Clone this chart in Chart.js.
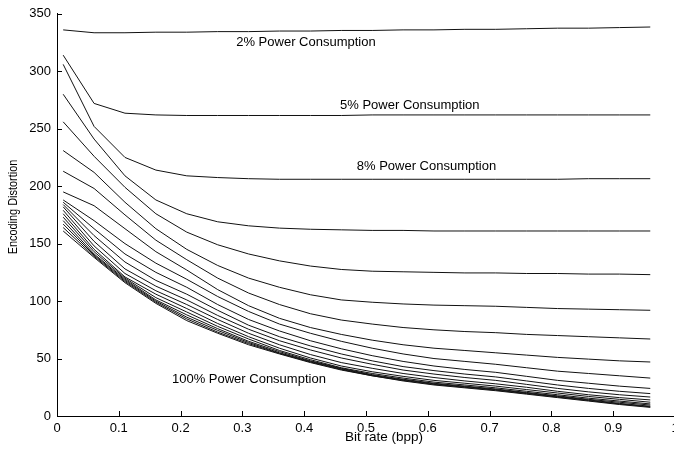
<!DOCTYPE html>
<html>
<head>
<meta charset="utf-8">
<script src="https://cdn.jsdelivr.net/npm/chart.js@4.4.0/dist/chart.umd.min.js"></script>
<style>
  html, body { margin: 0; padding: 0; background: #fff; overflow: hidden; }
  #wrap { width: 674px; height: 455px; overflow: hidden; }
  #wrap div { width: 690px; height: 455px; position: relative; }
</style>
</head>
<body>
<div id="wrap"><div><canvas id="distChart"></canvas></div></div>
<script>
// bit rate samples (bpp)
const bitRates = [0.01, 0.06, 0.11, 0.16, 0.21, 0.26, 0.31, 0.36, 0.41, 0.46,
                  0.51, 0.56, 0.61, 0.66, 0.71, 0.76, 0.81, 0.86, 0.91, 0.96];

// encoding distortion per power level, top (2%) to bottom (100%)
const d01 = [336, 333.5, 333.5, 334, 334, 334.5, 334.5, 335, 335, 335.5, 335.5, 336, 336, 336.5, 336.5, 337, 337.5, 337.5, 338, 338.5];
const d02 = [314, 272, 263.5, 262, 261.5, 261.5, 261.5, 261.5, 261.5, 261.5, 262, 262, 262, 262, 262, 262, 262, 262, 262, 262];
const d03 = [306, 252, 225, 214, 209, 207.5, 206.5, 206, 206, 206, 206, 206, 206, 206, 206, 206, 206, 206.5, 206.5, 206.5];
const d04 = [280, 241, 209, 188, 176, 169, 165.5, 163.5, 162.5, 162, 161.5, 161.5, 161, 161, 161, 161, 161, 161, 161, 161];
const d05 = [256, 226, 199, 176, 160, 149, 141, 135, 130.5, 127.5, 126, 125.5, 125, 124.5, 124.5, 124, 124, 123.5, 123.5, 123];
const d06 = [231, 212, 186, 163, 145, 131, 120, 112, 105.5, 101, 99, 97.5, 96.5, 96, 95.5, 94.5, 93.5, 93, 92.5, 92];
const d07 = [213, 198, 175, 153, 136, 120, 107, 97, 89, 83.5, 80, 77, 75, 73.5, 72.5, 71, 70, 69, 68, 67];
const d08 = [195, 183, 163, 143, 127, 110, 96, 85, 77, 71, 66, 62, 59, 57, 55, 53, 51, 49.5, 48, 47];
const d09 = [188, 170, 150, 133, 119, 104, 91, 80, 72, 65, 59, 54, 50, 47.5, 45, 42, 39, 37, 35, 33];
const d10 = [186, 163, 141, 125, 112, 97, 84, 74, 65.5, 58.5, 52.5, 47.5, 43.5, 40.5, 38, 34.5, 31, 28.5, 26, 24];
const d11 = [184, 157, 134, 118, 106, 92, 79, 69, 61, 54, 48, 43, 39.5, 36.5, 34, 30.5, 27, 24, 21.5, 19.5];
const d12 = [182, 152, 128, 113, 101, 87.5, 75.5, 65.5, 57.5, 50.5, 45, 40, 36.5, 33.5, 31, 27.5, 24, 21, 18.5, 16.5];
const d13 = [179, 148, 124, 109, 97, 84, 72, 62, 53.5, 46.5, 41.5, 37, 33.5, 30.5, 28, 25, 21.5, 18.5, 16, 14];
const d14 = [176, 145, 121, 106, 93.5, 80.5, 69, 59, 50.5, 43.5, 38.5, 34.5, 31, 28.5, 26, 23, 20, 17, 14.5, 12];
const d15 = [173, 143, 120, 103, 90.5, 78, 67, 57, 49, 42, 37, 33, 29.5, 27, 24.5, 21.5, 18.5, 15.5, 13, 10.5];
const d16 = [170, 141, 119, 101, 88, 76, 65, 56, 48, 41.5, 36, 32, 28.5, 26, 23.5, 20.5, 17.5, 14.5, 12, 9.5];
const d17 = [167, 140, 118, 100, 86, 74.5, 64, 55, 47.5, 41, 35.5, 31.5, 28, 25.5, 23, 20, 17, 14, 11, 8.5];
const d18 = [164, 139, 117, 99, 84.5, 73, 63, 54.5, 47, 40.5, 35, 31, 27.5, 25, 22.5, 19.5, 16.5, 13.5, 10.5, 8];
const d19 = [161, 138, 116, 98, 83, 72, 62, 54, 46.5, 40, 35, 30.5, 27, 24.5, 22, 19, 16, 13, 10, 7.5];

const curves = [d01, d02, d03, d04, d05, d06, d07, d08, d09, d10,
                d11, d12, d13, d14, d15, d16, d17, d18, d19];

const xTicks = [0, 0.1, 0.2, 0.3, 0.4, 0.5, 0.6, 0.7, 0.8, 0.9, 1];
const yTicks = [0, 50, 100, 150, 200, 250, 300, 350];

const notes = [
  { text: "2% Power Consumption", x: 0.29, y: 325 },
  { text: "5% Power Consumption", x: 0.458, y: 270.7 },
  { text: "8% Power Consumption", x: 0.485, y: 217.2 },
  { text: "100% Power Consumption", x: 0.186, y: 31.9 }
];

const FONT = "'Liberation Sans', Arial, sans-serif";

// inward ticks, axis titles, curve labels
const extras = {
  id: "extras",
  afterDraw(chart) {
    const { ctx, chartArea, scales } = chart;
    ctx.save();
    ctx.strokeStyle = "#000";
    ctx.lineWidth = 1;
    ctx.beginPath();
    yTicks.forEach(v => {
      const y = Math.round(scales.y.getPixelForValue(v)) + 0.5;
      ctx.moveTo(chartArea.left, y);
      ctx.lineTo(chartArea.left + 5, y);
    });
    xTicks.forEach(v => {
      const x = Math.round(scales.x.getPixelForValue(v)) + 0.5;
      ctx.moveTo(x, chartArea.bottom);
      ctx.lineTo(x, chartArea.bottom - 5);
    });
    ctx.stroke();

    ctx.fillStyle = "#000";
    ctx.font = "13px " + FONT;
    ctx.textAlign = "left";
    ctx.textBaseline = "middle";
    notes.forEach(n => {
      ctx.fillText(n.text, scales.x.getPixelForValue(n.x), scales.y.getPixelForValue(n.y));
    });

    // x title
    ctx.textAlign = "center";
    ctx.font = "13.5px " + FONT;
    ctx.fillText("Bit rate (bpp)", 384, 437);

    // y title, narrow
    ctx.translate(13, 207);
    ctx.rotate(-Math.PI / 2);
    ctx.scale(0.84, 1);
    ctx.font = "13px " + FONT;
    ctx.fillText("Encoding Distortion", 0, 0);
    ctx.restore();
  }
};

new Chart(document.getElementById("distChart"), {
  type: "line",
  data: {
    datasets: curves.map(c => ({
      data: c.map((v, i) => ({ x: bitRates[i], y: v })),
      borderColor: "#111",
      borderWidth: 1,
      pointRadius: 0,
      tension: 0,
      fill: false
    }))
  },
  options: {
    responsive: true,
    maintainAspectRatio: false,
    animation: false,
    events: [],
    layout: { padding: { top: 10, right: 15, bottom: 0, left: 0 } },
    plugins: { legend: { display: false }, tooltip: { enabled: false } },
    scales: {
      x: {
        type: "linear",
        min: 0,
        max: 1,
        afterFit: s => { s.height = 39; },
        afterBuildTicks: s => { s.ticks = xTicks.map(v => ({ value: v })); },
        grid: { drawOnChartArea: false, drawTicks: false },
        border: { display: true, color: "#000", width: 1 },
        ticks: {
          color: "#000",
          padding: 5,
          font: { family: FONT, size: 13 },
          maxRotation: 0,
          callback: v => String(v)
        }
      },
      y: {
        type: "linear",
        min: 0,
        max: 350,
        afterFit: s => { s.width = 57; },
        afterBuildTicks: s => { s.ticks = yTicks.map(v => ({ value: v })); },
        grid: { drawOnChartArea: false, drawTicks: false },
        border: { display: true, color: "#000", width: 1 },
        ticks: {
          color: "#000",
          padding: 6,
          font: { family: FONT, size: 13 }
        }
      }
    }
  },
  plugins: [extras]
});
</script>
</body>
</html>
